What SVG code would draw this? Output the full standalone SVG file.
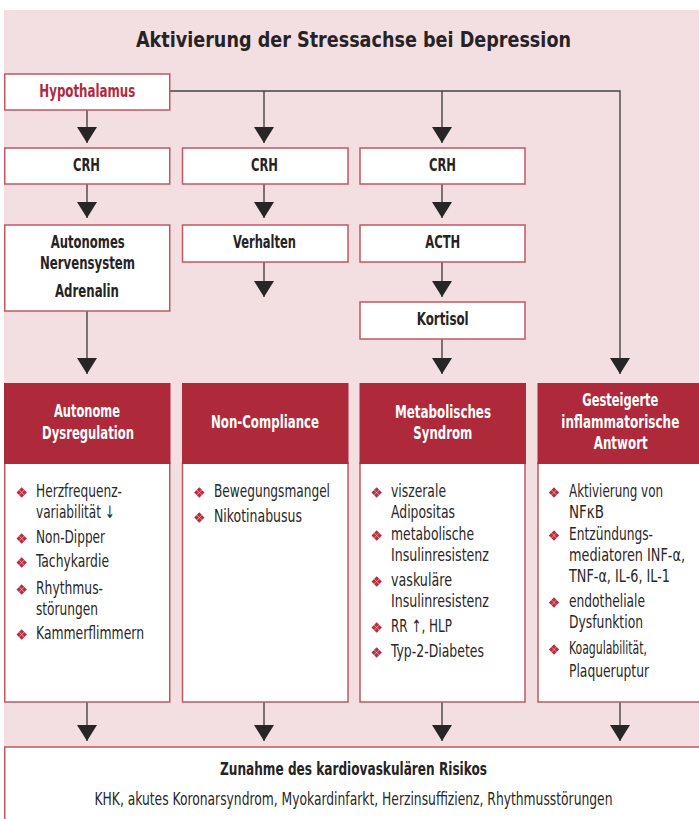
<svg xmlns="http://www.w3.org/2000/svg" width="699" height="819" viewBox="0 0 699 819">
<style>
.bg{fill:#f3dfe2}
.box{fill:#ffffff;stroke:#c65661;stroke-width:1.5}
.hdr{fill:#ae2a3a}
.t{font-family:'DejaVu Sans Condensed','DejaVu Sans',sans-serif;font-stretch:condensed;font-weight:bold;font-size:17px;fill:#262324}
.red{fill:#b02a3c}
.w{fill:#ffffff}
.l{font-family:'DejaVu Sans Condensed','DejaVu Sans',sans-serif;font-stretch:condensed;font-size:17px;fill:#2a2728}
.title{font-family:'DejaVu Sans','Liberation Sans',sans-serif;font-weight:bold;font-size:21px;fill:#262324}
.c{fill:none;stroke:#444;stroke-width:1.4}
.bul{fill:#b8303f}
</style>
<defs>
<marker id="ah" viewBox="0 0 16 20" refX="16" refY="10" markerWidth="16" markerHeight="20" markerUnits="userSpaceOnUse" orient="auto">
<path d="M0,0 L16,10 L0,20 Z" fill="#262626"/>
</marker>
<path id="b" class="bul" d="M0,-5.2 L2.5,-2.7 L0,-0.2 L-2.5,-2.7 Z M0,0.2 L2.5,2.7 L0,5.2 L-2.5,2.7 Z M0.2,0 L2.7,-2.5 L5.2,0 L2.7,2.5 Z M-0.2,0 L-2.7,-2.5 L-5.2,0 L-2.7,2.5 Z"/>
</defs>
<rect x="0" y="0" width="699" height="819" fill="#ffffff"/>
<rect class="bg" x="4" y="10" width="700" height="815"/>
<text class="title" x="136" y="47" textLength="435" lengthAdjust="spacingAndGlyphs">Aktivierung der Stressachse bei Depression</text>

<g id="connectors">
<line class="c" x1="87" y1="110" x2="87" y2="143" marker-end="url(#ah)"/>
<polyline class="c" points="170,91 620,91 620,374" marker-end="url(#ah)"/>
<line class="c" x1="264" y1="91" x2="264" y2="143" marker-end="url(#ah)"/>
<line class="c" x1="442" y1="91" x2="442" y2="143" marker-end="url(#ah)"/>
<line class="c" x1="87" y1="184" x2="87" y2="218" marker-end="url(#ah)"/>
<line class="c" x1="264" y1="184" x2="264" y2="218" marker-end="url(#ah)"/>
<line class="c" x1="442" y1="184" x2="442" y2="218" marker-end="url(#ah)"/>
<line class="c" x1="264" y1="262" x2="264" y2="297" marker-end="url(#ah)"/>
<line class="c" x1="442" y1="262" x2="442" y2="297" marker-end="url(#ah)"/>
<line class="c" x1="87" y1="311" x2="87" y2="374" marker-end="url(#ah)"/>
<line class="c" x1="442" y1="339" x2="442" y2="374" marker-end="url(#ah)"/>
<line class="c" x1="87" y1="702" x2="87" y2="741" marker-end="url(#ah)"/>
<line class="c" x1="264" y1="702" x2="264" y2="741" marker-end="url(#ah)"/>
<line class="c" x1="442" y1="702" x2="442" y2="741" marker-end="url(#ah)"/>
<line class="c" x1="620" y1="702" x2="620" y2="741" marker-end="url(#ah)"/>
</g>

<g id="hypothalamus">
<rect class="box" x="4.75" y="74" width="165" height="36"/>
<text class="t red" x="39.3" y="96.5" textLength="96" lengthAdjust="spacingAndGlyphs">Hypothalamus</text>
</g>
<g id="crh1">
<rect class="box" x="4.75" y="148" width="165" height="36"/>
<text class="t" x="73" y="170.5" textLength="27" lengthAdjust="spacingAndGlyphs">CRH</text>
</g>
<g id="crh2">
<rect class="box" x="182.5" y="148" width="165.5" height="36"/>
<text class="t" x="251" y="170.5" textLength="27" lengthAdjust="spacingAndGlyphs">CRH</text>
</g>
<g id="crh3">
<rect class="box" x="360" y="148" width="165" height="36"/>
<text class="t" x="429" y="170.5" textLength="27" lengthAdjust="spacingAndGlyphs">CRH</text>
</g>
<g id="ans">
<rect class="box" x="4.75" y="225" width="165" height="86"/>
<text class="t" x="50.7" y="248" textLength="74" lengthAdjust="spacingAndGlyphs">Autonomes</text>
<text class="t" x="40" y="268.5" textLength="95" lengthAdjust="spacingAndGlyphs">Nervensystem</text>
<text class="t" x="55" y="297" textLength="64" lengthAdjust="spacingAndGlyphs">Adrenalin</text>
</g>
<g id="verhalten">
<rect class="box" x="182.5" y="225" width="165.5" height="37"/>
<text class="t" x="233" y="248" textLength="63" lengthAdjust="spacingAndGlyphs">Verhalten</text>
</g>
<g id="acth">
<rect class="box" x="360" y="225" width="165" height="37"/>
<text class="t" x="425.3" y="248" textLength="35" lengthAdjust="spacingAndGlyphs">ACTH</text>
</g>
<g id="kortisol">
<rect class="box" x="360" y="302" width="165" height="37"/>
<text class="t" x="416.7" y="325" textLength="52" lengthAdjust="spacingAndGlyphs">Kortisol</text>
</g>

<g id="autonome-dysregulation">
<rect class="box" x="4.75" y="463" width="165" height="239"/>
<rect class="hdr" x="4" y="383" width="166.5" height="81"/>
<text class="t w" x="54" y="417" textLength="66" lengthAdjust="spacingAndGlyphs">Autonome</text>
<text class="t w" x="42" y="438.5" textLength="92" lengthAdjust="spacingAndGlyphs">Dysregulation</text>
<use href="#b" x="21.7" y="492.5"/>
<text class="l" x="36" y="497" textLength="86" lengthAdjust="spacingAndGlyphs">Herzfrequenz-</text>
<text class="l" x="36" y="517.5" textLength="79" lengthAdjust="spacingAndGlyphs">variabilität ↓</text>
<use href="#b" x="21.7" y="538.5"/>
<text class="l" x="36" y="543" textLength="69" lengthAdjust="spacingAndGlyphs">Non-Dipper</text>
<use href="#b" x="21.7" y="562.5"/>
<text class="l" x="36" y="567" textLength="73" lengthAdjust="spacingAndGlyphs">Tachykardie</text>
<use href="#b" x="21.7" y="589.5"/>
<text class="l" x="36" y="594" textLength="67" lengthAdjust="spacingAndGlyphs">Rhythmus-</text>
<text class="l" x="36" y="614.5" textLength="62" lengthAdjust="spacingAndGlyphs">störungen</text>
<use href="#b" x="21.7" y="634.5"/>
<text class="l" x="36" y="639" textLength="108" lengthAdjust="spacingAndGlyphs">Kammerflimmern</text>
</g>

<g id="non-compliance">
<rect class="box" x="182.5" y="463" width="165.5" height="239"/>
<rect class="hdr" x="182" y="383" width="166.5" height="81"/>
<text class="t w" x="211" y="428" textLength="108" lengthAdjust="spacingAndGlyphs">Non-Compliance</text>
<use href="#b" x="199.3" y="492.5"/>
<text class="l" x="214" y="497" textLength="116" lengthAdjust="spacingAndGlyphs">Bewegungsmangel</text>
<use href="#b" x="199.3" y="517.5"/>
<text class="l" x="214" y="522" textLength="88" lengthAdjust="spacingAndGlyphs">Nikotinabusus</text>
</g>

<g id="metabolisches-syndrom">
<rect class="box" x="360" y="463" width="165" height="239"/>
<rect class="hdr" x="359.5" y="383" width="166.5" height="81"/>
<text class="t w" x="395" y="418" textLength="96" lengthAdjust="spacingAndGlyphs">Metabolisches</text>
<text class="t w" x="413.3" y="438.5" textLength="59" lengthAdjust="spacingAndGlyphs">Syndrom</text>
<use href="#b" x="376.7" y="492.5"/>
<text class="l" x="391" y="497" textLength="55" lengthAdjust="spacingAndGlyphs">viszerale</text>
<text class="l" x="391" y="517.5" textLength="64" lengthAdjust="spacingAndGlyphs">Adipositas</text>
<use href="#b" x="376.7" y="535.5"/>
<text class="l" x="391" y="540" textLength="83" lengthAdjust="spacingAndGlyphs">metabolische</text>
<text class="l" x="391" y="561" textLength="98" lengthAdjust="spacingAndGlyphs">Insulinresistenz</text>
<use href="#b" x="376.7" y="581.5"/>
<text class="l" x="391" y="586" textLength="61" lengthAdjust="spacingAndGlyphs">vaskuläre</text>
<text class="l" x="391" y="607" textLength="98" lengthAdjust="spacingAndGlyphs">Insulinresistenz</text>
<use href="#b" x="376.7" y="627.5"/>
<text class="l" x="391" y="632" textLength="61" lengthAdjust="spacingAndGlyphs">RR ↑, HLP</text>
<use href="#b" x="376.7" y="652.5"/>
<text class="l" x="391" y="657" textLength="93" lengthAdjust="spacingAndGlyphs">Typ-2-Diabetes</text>
</g>

<g id="inflammatorische-antwort">
<rect class="box" x="538" y="463" width="170" height="239"/>
<rect class="hdr" x="537.5" y="383" width="170" height="81"/>
<text class="t w" x="582.3" y="406" textLength="76" lengthAdjust="spacingAndGlyphs">Gesteigerte</text>
<text class="t w" x="561.3" y="428" textLength="118" lengthAdjust="spacingAndGlyphs">inflammatorische</text>
<text class="t w" x="593.7" y="448.5" textLength="54" lengthAdjust="spacingAndGlyphs">Antwort</text>
<use href="#b" x="554" y="492.5"/>
<text class="l" x="569" y="497" textLength="94" lengthAdjust="spacingAndGlyphs">Aktivierung von</text>
<text class="l" x="569" y="517.5" textLength="35" lengthAdjust="spacingAndGlyphs">NFκB</text>
<use href="#b" x="554" y="535.5"/>
<text class="l" x="569" y="540" textLength="84" lengthAdjust="spacingAndGlyphs">Entzündungs-</text>
<text class="l" x="569" y="561" textLength="116" lengthAdjust="spacingAndGlyphs">mediatoren INF-α,</text>
<text class="l" x="569" y="581.5" textLength="101" lengthAdjust="spacingAndGlyphs">TNF-α, IL-6, IL-1</text>
<use href="#b" x="554" y="602.5"/>
<text class="l" x="569" y="607" textLength="76" lengthAdjust="spacingAndGlyphs">endotheliale</text>
<text class="l" x="569" y="628" textLength="74" lengthAdjust="spacingAndGlyphs">Dysfunktion</text>
<use href="#b" x="554" y="649.5"/>
<text class="l" x="569" y="654" textLength="78" lengthAdjust="spacingAndGlyphs">Koagulabilität,</text>
<text class="l" x="569" y="677" textLength="80" lengthAdjust="spacingAndGlyphs">Plaqueruptur</text>
</g>

<g id="kardiovaskulaeres-risiko">
<rect class="box" x="4.75" y="747" width="705" height="80"/>
<text class="t" x="220" y="775" textLength="267" lengthAdjust="spacingAndGlyphs">Zunahme des kardiovaskulären Risikos</text>
<text class="l" x="94.5" y="805" textLength="518" lengthAdjust="spacingAndGlyphs">KHK, akutes Koronarsyndrom, Myokardinfarkt, Herzinsuffizienz, Rhythmusstörungen</text>
</g>
</svg>
